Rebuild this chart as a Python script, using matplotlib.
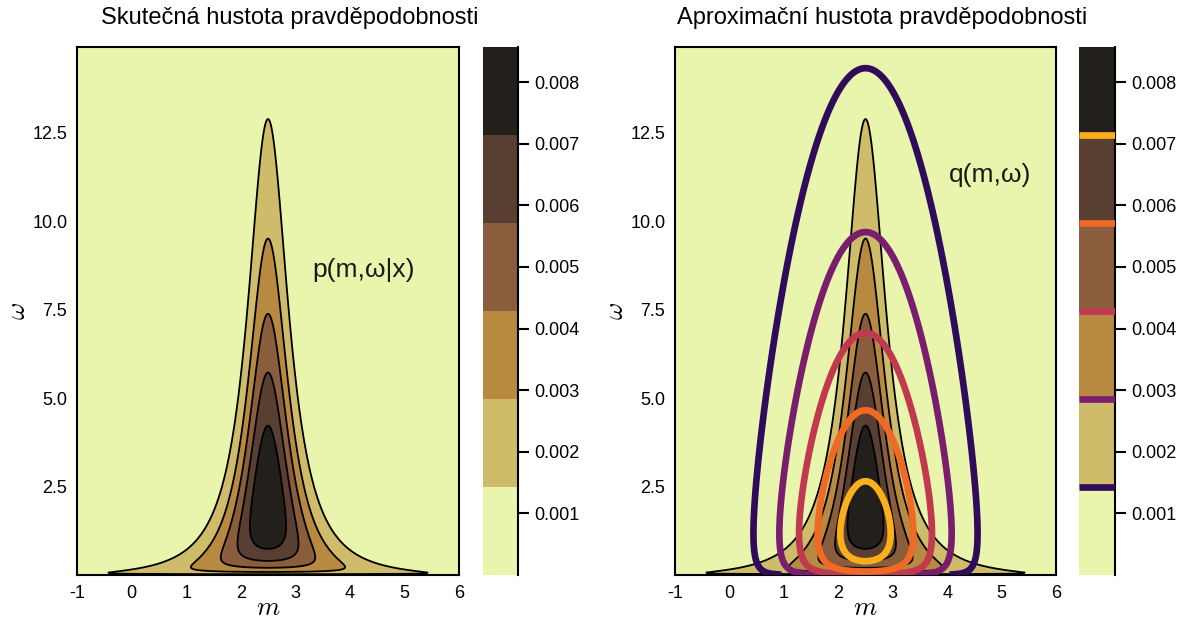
import numpy as np
import matplotlib
matplotlib.use("Agg")
import matplotlib.pyplot as plt
from matplotlib.lines import Line2D

plt.rcParams['font.family'] = ['Liberation Sans', 'DejaVu Sans']
plt.rcParams['mathtext.fontset'] = 'cm'
plt.rcParams['axes.unicode_minus'] = False

# ---- model parameters -------------------------------------------------------
MU = 2.5                      # location of both densities in m

# true posterior p(m, omega | x): normal-gamma shape
P_PEAK = 0.00857              # maximum density
P_OMEGA_MODE = 2.0            # omega of the peak
P_SHAPE = 0.5                 # shape exponent of the omega profile
P_KAPPA = 2.0                 # precision scaling in m (times omega)

# mean-field approximation q(m) q(omega): independent normal and gamma
Q_PEAK = 0.00778
Q_OMEGA_MODE = 1.18
Q_SHAPE = 0.196
Q_LAMBDA = 0.8                # precision of q(m)

# ---- axes, ticks, labels -----------------------------------------------------
M_RANGE = (-1.0, 6.0)
OMEGA_RANGE = (0.01, 14.93)
X_TICKS = [-1, 0, 1, 2, 3, 4, 5, 6]
X_TICK_LABELS = ['-1', '0', '1', '2', '3', '4', '5', '6']
Y_TICKS = [2.5, 5.0, 7.5, 10.0, 12.5]
CBAR_TICKS = [0.001, 0.002, 0.003, 0.004, 0.005, 0.006, 0.007, 0.008]
N_LEVELS = 7

TITLES = ['Skutečná hustota pravděpodobnosti', 'Aproximační hustota pravděpodobnosti']
ANNOTATIONS = ['p(m,ω|x)', 'q(m,ω)']
ANNOT_POS = [(4.26, 8.63), (4.79, 11.3)]

FILL_COLORS = ['#E9F5AD', '#CFBC6A', '#B78941', '#8A5E3C', '#583F31', '#23201B']
Q_COLORS = ['#300A5B', '#7A1D6D', '#C0394F', '#EE6A25', '#FCAF1B']

# ---- densities on a grid ------------------------------------------------------
m = np.linspace(*M_RANGE, 500)
w = np.linspace(*OMEGA_RANGE, 500)
M, W = np.meshgrid(m, w)


def log_gamma_profile(omega, shape, mode):
    u = omega / mode
    return shape * (np.log(u) - u + 1.0)


P = P_PEAK * np.exp(log_gamma_profile(W, P_SHAPE, P_OMEGA_MODE)
                    - 0.5 * P_KAPPA * W * (M - MU) ** 2)
Q = Q_PEAK * np.exp(log_gamma_profile(W, Q_SHAPE, Q_OMEGA_MODE)
                    - 0.5 * Q_LAMBDA * (M - MU) ** 2)

levels = np.linspace(0.0, P_PEAK, N_LEVELS)

# ---- figure -------------------------------------------------------------------
FW, FH = 1191, 621
fig = plt.figure(figsize=(FW / 100, FH / 100), dpi=100)


def px_rect(x0, x1, y0, y1):
    return [x0 / FW, 1 - y1 / FH, (x1 - x0) / FW, (y1 - y0) / FH]


ax_rects = [px_rect(77, 459, 47, 575), px_rect(675, 1056, 47, 575)]
cax_rects = [px_rect(483, 518, 47, 575), px_rect(1079, 1115, 47, 575)]
title_x = [290, 882]

for i in range(2):
    ax = fig.add_axes(ax_rects[i])
    cax = fig.add_axes(cax_rects[i])

    cf = ax.contourf(M, W, P, levels=levels, colors=FILL_COLORS)
    ax.contour(M, W, P, levels=levels[1:-1], colors='k', linewidths=1.3)

    ax.set_xlim(*M_RANGE)
    ax.set_ylim(0.0, OMEGA_RANGE[1])
    ax.set_xticks(X_TICKS)
    ax.set_xticklabels(X_TICK_LABELS)
    ax.set_yticks(Y_TICKS)
    ax.tick_params(length=0, labelsize=13, pad=7)
    for sp in ax.spines.values():
        sp.set_linewidth(1.5)
    ax.set_xlabel('$m$', fontsize=19, va='center')
    ax.set_ylabel(r'$\omega$', fontsize=19, va='center')
    ax.xaxis.set_label_coords(0.5, -0.062)
    ax.yaxis.set_label_coords(-0.154, 0.5)

    ax.text(*ANNOT_POS[i], ANNOTATIONS[i], ha='center', va='center', fontsize=19,
            color='#1a1a1a')

    cbar = fig.colorbar(cf, cax=cax, ticks=CBAR_TICKS, format='%.3f')
    cbar.outline.set_visible(False)
    cax.add_line(Line2D([1, 1], [0, 1], transform=cax.transAxes, color='k',
                        lw=1.5, clip_on=False))
    cax.tick_params(length=8, width=1.5, labelsize=13, pad=4)

    if i == 1:
        qs = ax.contour(M, W, Q, levels=levels[1:-1], colors=Q_COLORS,
                        linewidths=4.8, zorder=3)
        cbar.add_lines(qs)

    fig.text(title_x[i] / FW, 1 - 18 / FH, TITLES[i], ha='center', va='center',
             fontsize=17)

fig.savefig('out.png', dpi=100)
